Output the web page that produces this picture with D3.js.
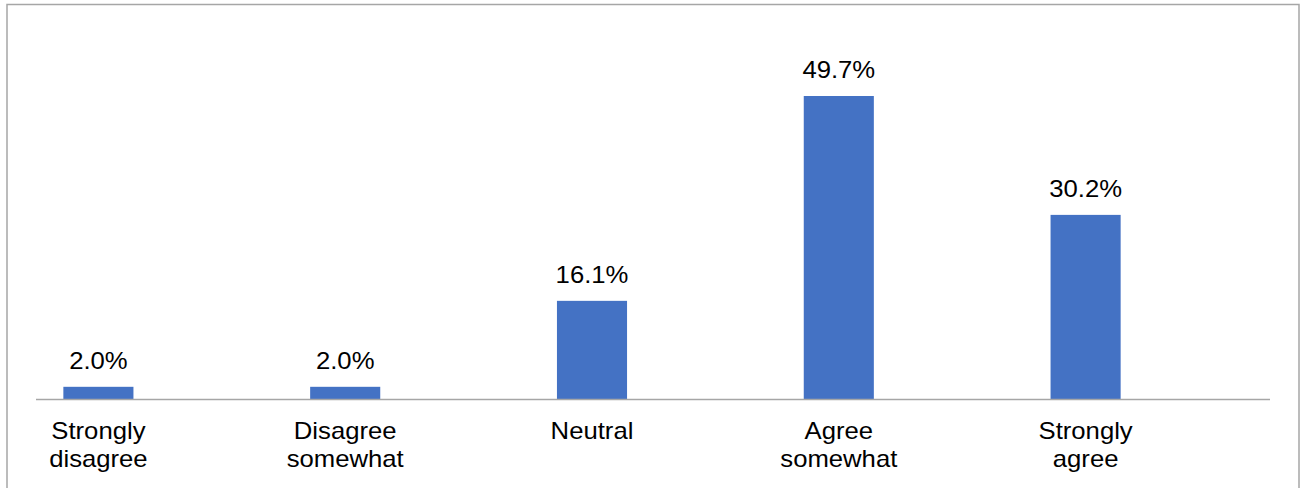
<!DOCTYPE html>
<html><head><meta charset="utf-8">
<script src="https://cdn.jsdelivr.net/npm/d3@7"></script>
<style>html,body{margin:0;padding:0;background:#fff;}svg{display:block;}</style>
</head><body>
<svg id="c" width="1306" height="488"></svg>
<script>
const categories = ["Strongly disagree", "Disagree somewhat", "Neutral", "Agree somewhat", "Strongly agree"];
const categoryLines = [["Strongly","disagree"],["Disagree","somewhat"],["Neutral"],["Agree","somewhat"],["Strongly","agree"]];
const values = [2.0, 2.0, 16.1, 49.7, 30.2];
const valueLabels = ["2.0%", "2.0%", "16.1%", "49.7%", "30.2%"];

const svg = d3.select("#c");
const FONT = "Liberation Sans, Arial, sans-serif";
const FS = 24, SX = 1.07;
// frame
svg.append("rect").attr("x",7).attr("y",4.5).attr("width",1292).attr("height",500)
  .attr("fill","none").attr("stroke","#a6a6a6").attr("stroke-width",1.5);

const axisX0 = 36, axisX1 = 1270, yBase = 399;
const x = d3.scaleBand().domain(categories).range([-25, 1209]).paddingInner(0.716).paddingOuter(0.358);
const y = d3.scaleLinear().domain([0, 49.7]).range([yBase, 96]);
const cx = c => x(c) + x.bandwidth()/2;

svg.selectAll("rect.bar").data(values).enter().append("rect")
  .attr("class","bar")
  .attr("x",(d,i)=>x(categories[i]))
  .attr("width",x.bandwidth())
  .attr("y",d=>y(d))
  .attr("height",d=>yBase-y(d))
  .attr("fill","#4472C4");

svg.selectAll("text.val").data(values).enter().append("text")
  .attr("class","val")
  .attr("transform",(d,i)=>`translate(${cx(categories[i])},${y(d)-18}) scale(${SX},1)`)
  .attr("text-anchor","middle")
  .attr("font-family",FONT)
  .attr("font-size",FS)
  .attr("fill","#000")
  .text((d,i)=>valueLabels[i]);

// axis line
svg.append("line").attr("x1",axisX0).attr("x2",axisX1).attr("y1",yBase+0.5).attr("y2",yBase+0.5)
  .attr("stroke","#a6a6a6").attr("stroke-width",1.3);

categories.forEach((c,i)=>{
  const t = svg.append("text")
    .attr("transform",`translate(${cx(c)},439) scale(${SX},1)`)
    .attr("text-anchor","middle")
    .attr("font-family",FONT)
    .attr("font-size",FS)
    .attr("fill","#000");
  categoryLines[i].forEach((ln,j)=>{
    t.append("tspan").attr("x",0).attr("dy", j===0?0:28).text(ln);
  });
});
</script>
</body></html>
